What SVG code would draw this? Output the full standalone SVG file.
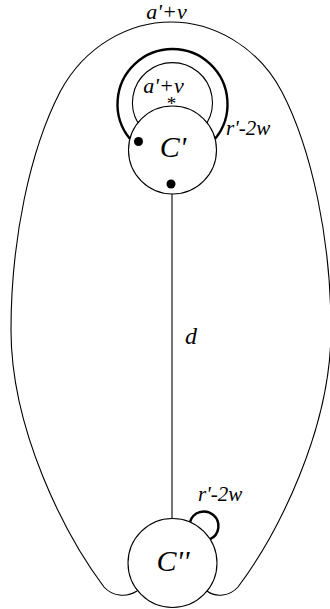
<svg xmlns="http://www.w3.org/2000/svg" width="330" height="609" viewBox="0 0 330 609">
<style>
.ln{fill:none;stroke:#000;stroke-width:1.1}
.thick{fill:none;stroke:#000;stroke-width:2.4}
.node{fill:#fff;stroke:#000;stroke-width:1.1}
.t{font-family:"Liberation Serif","Times New Roman",serif;font-style:italic;fill:#000}
.dot{fill:#000}
</style>
<rect width="330" height="609" fill="#fff"/>
<g id="connectors">
<path id="outer" class="ln" d="M137,591 C126,598 112,596 104,587 C65,535 11,430 11,330 C11,240 30,150 60,92 C85,45 130,22 171,22 C212,22 257,45 282,92 C312,150 331,240 331,330 C331,430 277,535 238,587 C230,596 216,598 207,591"/>
<path id="edge-d" class="ln" d="M172,194 L172,518"/>
<path id="loop-thick" class="thick" d="M129.9,138.8 A55,55 0 1 1 215.1,138.8"/>
<path id="loop-inner" class="ln" d="M137.9,122.8 A40,40 0 1 1 207,122.8"/>
<path id="loop-small" class="thick" d="M190,522.1 A14.5,14.5 0 1 1 210.1,539.2"/>
</g>
<g id="labels">
<text class="t" x="166.5" y="19" font-size="22" text-anchor="middle">a'+v</text>
<text class="t" x="163.5" y="93" font-size="22" text-anchor="middle">a'+v</text>
<text x="171.5" y="110" font-size="19" text-anchor="middle" font-family="Liberation Serif, serif">*</text>
<text class="t" x="226" y="135" font-size="21">r'-2w</text>
<text class="t" x="185" y="344" font-size="24">d</text>
<text class="t" x="198" y="501" font-size="21">r'-2w</text>
</g>
<g id="node-Cp">
<circle class="node" cx="172.5" cy="150" r="44"/>
<circle class="dot" cx="138.5" cy="141.5" r="4.5"/>
<circle class="dot" cx="171" cy="184" r="4.5"/>
<text class="t" x="173" y="157" font-size="30" text-anchor="middle">C'</text>
</g>
<g id="node-Cpp">
<circle class="node" cx="172.5" cy="563" r="44.5"/>
<text class="t" x="173" y="571" font-size="30" text-anchor="middle">C''</text>
</g>
</svg>
